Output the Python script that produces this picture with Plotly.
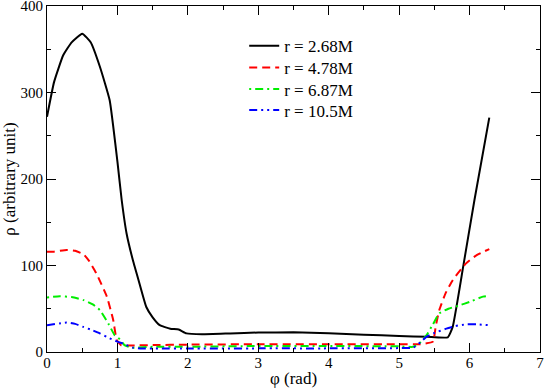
import plotly.graph_objects as go

# r = 2.68M
phi_268 = [0, 0.1, 0.23, 0.35, 0.5, 0.62, 0.75, 0.89, 1.0, 1.06, 1.13, 1.22, 1.30, 1.41,
           1.5, 1.6, 1.75, 1.87, 1.98, 2.2, 2.6, 3.0, 3.5, 4.0, 4.5, 5.0, 5.4, 5.69,
           5.76, 5.91, 6.07, 6.28]
rho_268 = [272, 312, 343, 358, 368, 358, 330, 291, 220, 176, 137, 106, 83, 52,
           40, 31, 27, 26, 21.5, 20.5, 21.5, 22.5, 22.7, 21.7, 20, 18.5, 17.5, 17,
           29, 99, 176, 271]

# r = 4.78M
phi_478 = [0, 0.1, 0.28, 0.4, 0.52, 0.6, 0.7, 0.85, 0.94, 0.99, 1.05, 1.2, 1.5, 2, 3, 4,
           5, 5.3, 5.48, 5.52, 5.57, 5.66, 5.76, 5.95, 6.1, 6.28]
rho_478 = [116, 116, 118, 117, 113, 105, 91, 64, 37, 14, 8, 7.5, 8, 8.5, 9, 9,
           9, 9, 12, 30, 48.5, 68, 83, 102.5, 112, 119]

# r = 6.87M
phi_687 = [0, 0.18, 0.35, 0.52, 0.65, 0.75, 0.87, 0.96, 1.035, 1.1, 1.2, 1.5, 2, 3, 4, 5,
           5.2, 5.3, 5.39, 5.48, 5.57, 5.7, 5.86, 6.0, 6.19, 6.28]
rho_687 = [63, 64.5, 63.5, 60, 55, 48.5, 33, 19.6, 14.6, 8, 5, 6, 6, 7, 7, 6.5,
           6, 11, 19.6, 32, 44.7, 50, 54, 58, 64, 65]

# r = 10.5M
phi_105 = [0, 0.28, 0.4, 0.515, 0.65, 0.75, 0.89, 1.0, 1.1, 1.22, 1.35, 1.6, 2, 3, 4, 5,
           5.2, 5.3, 5.39, 5.5, 5.67, 5.8, 5.95, 6.1, 6.28]
rho_105 = [31, 34, 32.5, 29, 25, 21.6, 15.8, 12, 9, 5, 4, 4, 4, 4.2, 4.2, 4.5,
           5, 11, 17.7, 22, 27, 30, 32, 32, 31]

series = [
    ("r = 2.68M", phi_268, rho_268, "black", "solid"),
    ("r = 4.78M", phi_478, rho_478, "red", "8px,5px"),
    ("r = 6.87M", phi_687, rho_687, "#00ee00", "2px,4px,8px,4px"),
    ("r = 10.5M", phi_105, rho_105, "blue", "8px,4px,2px,4px,2px,4px"),
]

FONT = "Liberation Serif"

# one small legend per series so the row spacing can follow the original
legend_rows = [0.884, 0.821, 0.759, 0.698]

fig = go.Figure()
for i, (name, x, y, color, dash) in enumerate(series):
    key = "legend" if i == 0 else f"legend{i + 1}"
    fig.add_trace(go.Scatter(
        x=x, y=y, mode="lines", name=name, legend=key,
        line=dict(color=color, width=2, dash=dash, shape="spline", smoothing=0.4),
    ))
    fig.update_layout({key: dict(
        x=0.4, y=legend_rows[i], xanchor="left", yanchor="middle",
        bgcolor="rgba(0,0,0,0)", font=dict(family=FONT, size=17, color="black"),
        itemwidth=30,
    )})

axis_common = dict(
    showline=True, linecolor="black", linewidth=1, mirror="allticks",
    ticks="inside", ticklen=9, tickcolor="black", tickwidth=1,
    showgrid=False, zeroline=False, automargin=False, ticklabeloverflow="allow",
    tickfont=dict(family=FONT, size=15, color="black"),
    minor=dict(ticks="inside", ticklen=4, tickcolor="black", tickwidth=1, showgrid=False),
)

fig.update_xaxes(range=[0, 7], dtick=1, minor_dtick=0.5, ticklabelstandoff=-3,
                 title=dict(text="φ (rad)", font=dict(family=FONT, size=17), standoff=4),
                 **axis_common)
fig.update_yaxes(range=[0, 400], dtick=100, minor_dtick=50,
                 title=dict(text="ρ (arbitrary unit)", font=dict(family=FONT, size=17)),
                 **axis_common)

fig.update_layout(
    width=545, height=388,
    margin=dict(l=47, r=5, t=6, b=36),
    plot_bgcolor="white", paper_bgcolor="white",
    font=dict(family=FONT, color="black"),
    showlegend=True,
)

fig.write_html("out.html", config={"displayModeBar": False},
               post_script="document.body.style.margin='0';")
